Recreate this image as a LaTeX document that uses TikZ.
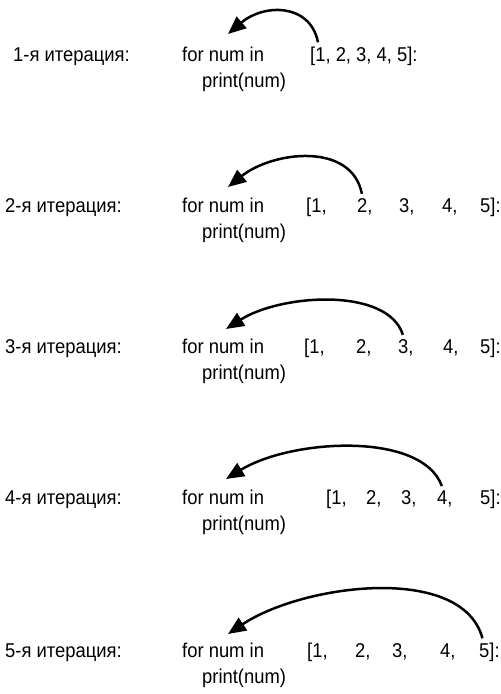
\documentclass[tikz,border=0pt]{standalone}
\usepackage{fontspec}
\setmainfont[FakeStretch=0.92]{Liberation Sans}
\usetikzlibrary{arrows.meta}
\begin{document}
\begin{tikzpicture}[x=1pt,y=1pt,
  txt/.style={anchor=base west, inner sep=0pt, font=\fontsize{20}{24}\selectfont},
  loopar/.style={line width=2.5pt, -{Triangle[length=18pt,width=15pt]}}]
\useasboundingbox (0,0) rectangle (501,694);
% row 1
\node[txt] (l1) at (13,632) {1-я итерация:};
\node[txt] (f1) at (182,632) {for num in};
\node[txt] (p1) at (202,606) {print(num)};
\node[txt] (a1) at (310,632) {[1, 2, 3, 4, 5]:};
\coordinate (t1) at (228,660);
\draw[loopar] ([xshift=8pt,yshift=5pt]a1.north west) .. controls +(-8,40) and +(35,30) .. (t1);
% row 2
\node[txt] (l2) at (5,481) {2-я итерация:};
\node[txt] (f2) at (182,481) {for num in};
\node[txt] (p2) at (202,455) {print(num)};
\node[txt] (b21) at (306,481) {[1,};
\node[txt] (b22) at (357,481) {2,};
\node[txt] (b23) at (399,481) {3,};
\node[txt] (b24) at (442,481) {4,};
\node[txt] (b25) at (480,481) {5]:};
\coordinate (t2) at (228,507);
\draw[loopar] ([xshift=-3pt,yshift=5pt]b22.north) .. controls +(-10,52) and +(45,36) .. (t2);
% row 3
\node[txt] (l3) at (5,340) {3-я итерация:};
\node[txt] (f3) at (182,340) {for num in};
\node[txt] (p3) at (202,314) {print(num)};
\node[txt] (b31) at (304,340) {[1,};
\node[txt] (b32) at (356,340) {2,};
\node[txt] (b33) at (398,340) {3,};
\node[txt] (b34) at (443,340) {4,};
\node[txt] (b35) at (480,340) {5]:};
\coordinate (t3) at (226,365);
\draw[loopar] ([xshift=-3pt,yshift=5pt]b33.north) .. controls +(-15,48) and +(55,35) .. (t3);
% row 4
\node[txt] (l4) at (5,189) {4-я итерация:};
\node[txt] (f4) at (182,189) {for num in};
\node[txt] (p4) at (202,163) {print(num)};
\node[txt] (b41) at (326,189) {[1,};
\node[txt] (b42) at (366,189) {2,};
\node[txt] (b43) at (401,189) {3,};
\node[txt] (b44) at (437,189) {4,};
\node[txt] (b45) at (480,189) {5]:};
\coordinate (t4) at (226,215);
\draw[loopar] ([xshift=-3pt,yshift=5pt]b44.north) .. controls +(-20,55) and +(65,40) .. (t4);
% row 5
\node[txt] (l5) at (5,36) {5-я итерация:};
\node[txt] (f5) at (182,36) {for num in};
\node[txt] (p5) at (202,10) {print(num)};
\node[txt] (b51) at (307,36) {[1,};
\node[txt] (b52) at (355,36) {2,};
\node[txt] (b53) at (392,36) {3,};
\node[txt] (b54) at (440,36) {4,};
\node[txt] (b55) at (479,36) {5]:};
\coordinate (t5) at (228,60);
\draw[loopar] ([xshift=-7pt,yshift=5pt]b55.north) .. controls +(-20,75) and +(75,50) .. (t5);
\end{tikzpicture}
\end{document}
